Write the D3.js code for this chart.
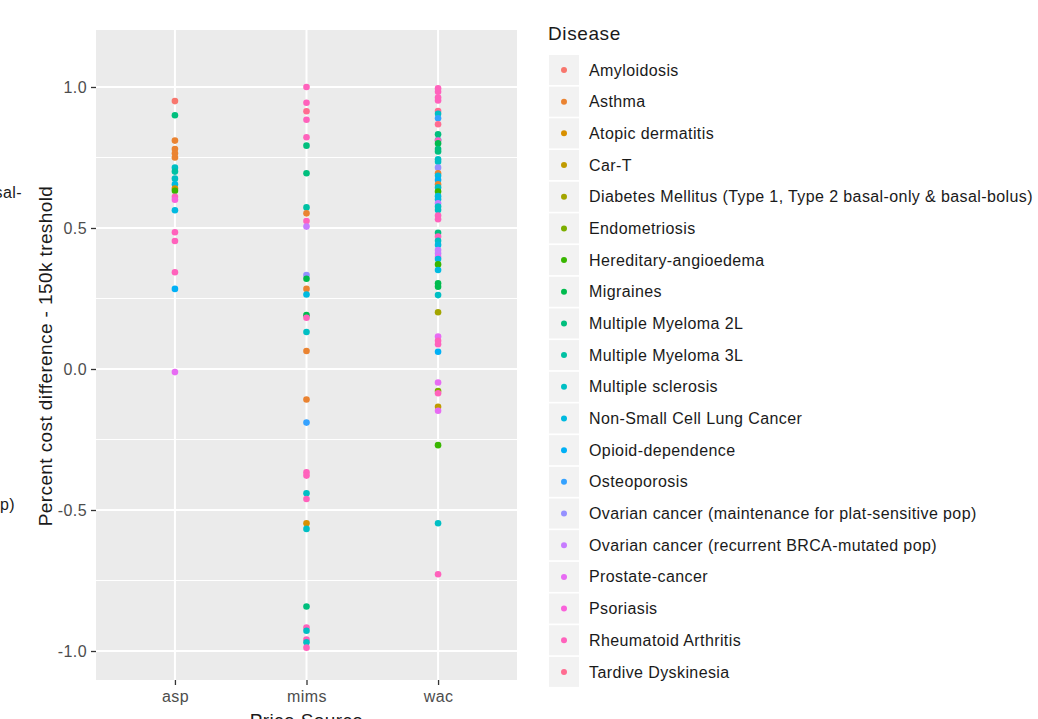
<!DOCTYPE html>
<html>
<head>
<meta charset="utf-8">
<script src="https://cdn.jsdelivr.net/npm/d3@7/dist/d3.min.js"></script>
<style>
  html, body { margin: 0; padding: 0; background: #ffffff; }
  svg { display: block; font-family: "Liberation Sans", Arial, sans-serif; }
</style>
</head>
<body>
<svg id="chart" width="1038" height="719"></svg>
<script>
// Price sources on the x axis
const sources = ["asp", "mims", "wac"];

// Disease levels, in legend order
const diseases = [
  "Amyloidosis",
  "Asthma",
  "Atopic dermatitis",
  "Car-T",
  "Diabetes Mellitus (Type 1, Type 2 basal-only & basal-bolus)",
  "Endometriosis",
  "Hereditary-angioedema",
  "Migraines",
  "Multiple Myeloma 2L",
  "Multiple Myeloma 3L",
  "Multiple sclerosis",
  "Non-Small Cell Lung Cancer",
  "Opioid-dependence",
  "Osteoporosis",
  "Ovarian cancer (maintenance for plat-sensitive pop)",
  "Ovarian cancer (recurrent BRCA-mutated pop)",
  "Prostate-cancer",
  "Psoriasis",
  "Rheumatoid Arthritis",
  "Tardive Dyskinesia"
];

// Default discrete hue palette, 20 levels
const diseaseColors = [
  "#F8766D", "#EA8331", "#D89000", "#C09B00", "#A3A500",
  "#7CAE00", "#39B600", "#00BB4E", "#00BF7D", "#00C1A3",
  "#00BFC4", "#00BAE0", "#00B0F6", "#35A2FF", "#9590FF",
  "#C77CFF", "#E76BF3", "#FA62DB", "#FF62BC", "#FF6C91"
];

// Percent cost difference at the 150k threshold, [disease, value]
const aspPoints = [
  ["Amyloidosis", 0.95], ["Multiple Myeloma 2L", 0.90],
  ["Asthma", 0.81], ["Asthma", 0.78], ["Asthma", 0.765], ["Asthma", 0.75],
  ["Multiple sclerosis", 0.714], ["Multiple Myeloma 3L", 0.70],
  ["Multiple sclerosis", 0.675], ["Non-Small Cell Lung Cancer", 0.655],
  ["Atopic dermatitis", 0.64], ["Hereditary-angioedema", 0.632],
  ["Rheumatoid Arthritis", 0.611], ["Psoriasis", 0.60],
  ["Non-Small Cell Lung Cancer", 0.563], ["Rheumatoid Arthritis", 0.485],
  ["Rheumatoid Arthritis", 0.454], ["Rheumatoid Arthritis", 0.343],
  ["Opioid-dependence", 0.284], ["Prostate-cancer", -0.011]
];

const mimsPoints = [
  ["Rheumatoid Arthritis", 1.0], ["Rheumatoid Arthritis", 0.944],
  ["Tardive Dyskinesia", 0.914], ["Rheumatoid Arthritis", 0.884],
  ["Rheumatoid Arthritis", 0.822], ["Multiple Myeloma 2L", 0.792],
  ["Multiple Myeloma 2L", 0.694], ["Multiple Myeloma 3L", 0.573],
  ["Asthma", 0.552], ["Rheumatoid Arthritis", 0.525],
  ["Ovarian cancer (recurrent BRCA-mutated pop)", 0.505],
  ["Ovarian cancer (maintenance for plat-sensitive pop)", 0.333],
  ["Migraines", 0.320], ["Asthma", 0.284],
  ["Non-Small Cell Lung Cancer", 0.264], ["Migraines", 0.191],
  ["Rheumatoid Arthritis", 0.182], ["Multiple sclerosis", 0.131],
  ["Asthma", 0.064], ["Asthma", -0.108], ["Osteoporosis", -0.19],
  ["Rheumatoid Arthritis", -0.366], ["Rheumatoid Arthritis", -0.378],
  ["Multiple sclerosis", -0.441], ["Rheumatoid Arthritis", -0.461],
  ["Atopic dermatitis", -0.547], ["Multiple sclerosis", -0.567],
  ["Multiple Myeloma 2L", -0.842], ["Rheumatoid Arthritis", -0.917],
  ["Multiple sclerosis", -0.928], ["Rheumatoid Arthritis", -0.959],
  ["Multiple sclerosis", -0.969], ["Rheumatoid Arthritis", -0.988]
];

const wacPoints = [
  ["Rheumatoid Arthritis", 0.995], ["Rheumatoid Arthritis", 0.983],
  ["Rheumatoid Arthritis", 0.963], ["Rheumatoid Arthritis", 0.952],
  ["Tardive Dyskinesia", 0.915], ["Multiple sclerosis", 0.905],
  ["Osteoporosis", 0.889], ["Tardive Dyskinesia", 0.868],
  ["Multiple Myeloma 2L", 0.832], ["Multiple sclerosis", 0.812],
  ["Rheumatoid Arthritis", 0.81], ["Migraines", 0.80],
  ["Multiple Myeloma 2L", 0.78], ["Multiple Myeloma 2L", 0.771],
  ["Multiple sclerosis", 0.744], ["Multiple sclerosis", 0.735],
  ["Ovarian cancer (maintenance for plat-sensitive pop)", 0.714],
  ["Asthma", 0.694], ["Non-Small Cell Lung Cancer", 0.685],
  ["Opioid-dependence", 0.67], ["Asthma", 0.655],
  ["Multiple sclerosis", 0.644], ["Hereditary-angioedema", 0.629],
  ["Non-Small Cell Lung Cancer", 0.613], ["Non-Small Cell Lung Cancer", 0.602],
  ["Ovarian cancer (recurrent BRCA-mutated pop)", 0.588],
  ["Multiple sclerosis", 0.576], ["Multiple sclerosis", 0.564],
  ["Rheumatoid Arthritis", 0.544], ["Rheumatoid Arthritis", 0.531],
  ["Multiple Myeloma 2L", 0.483], ["Rheumatoid Arthritis", 0.47],
  ["Multiple sclerosis", 0.455], ["Non-Small Cell Lung Cancer", 0.44],
  ["Ovarian cancer (recurrent BRCA-mutated pop)", 0.422],
  ["Ovarian cancer (recurrent BRCA-mutated pop)", 0.41],
  ["Prostate-cancer", 0.398], ["Non-Small Cell Lung Cancer", 0.39],
  ["Hereditary-angioedema", 0.371], ["Non-Small Cell Lung Cancer", 0.351],
  ["Migraines", 0.304], ["Migraines", 0.292],
  ["Multiple sclerosis", 0.262], ["Diabetes Mellitus (Type 1, Type 2 basal-only & basal-bolus)", 0.201],
  ["Prostate-cancer", 0.115], ["Rheumatoid Arthritis", 0.10],
  ["Rheumatoid Arthritis", 0.088], ["Opioid-dependence", 0.061],
  ["Prostate-cancer", -0.048], ["Endometriosis", -0.078],
  ["Rheumatoid Arthritis", -0.086], ["Car-T", -0.134],
  ["Prostate-cancer", -0.148], ["Hereditary-angioedema", -0.27],
  ["Multiple sclerosis", -0.547], ["Rheumatoid Arthritis", -0.728]
];

const yTicks = [-1.0, -0.5, 0.0, 0.5, 1.0];
const yMinorTicks = [-0.75, -0.25, 0.25, 0.75];

const rows = [
  ...aspPoints.map(([d, v]) => ({ source: "asp", disease: d, value: v })),
  ...mimsPoints.map(([d, v]) => ({ source: "mims", disease: d, value: v })),
  ...wacPoints.map(([d, v]) => ({ source: "wac", disease: d, value: v }))
];

const svg = d3.select("#chart");
const panel = { left: 96, right: 517, top: 30, bottom: 680 };

const x = d3.scalePoint().domain(sources)
  .range([panel.left, panel.right]).padding(0.6);
const y = d3.scaleLinear().domain([-1.1028, 1.2021])
  .range([panel.bottom, panel.top]);
const color = d3.scaleOrdinal().domain(diseases).range(diseaseColors);

// Panel background
svg.append("rect")
  .attr("x", panel.left).attr("y", panel.top)
  .attr("width", panel.right - panel.left)
  .attr("height", panel.bottom - panel.top)
  .attr("fill", "#EBEBEB");

// Grid
const grid = svg.append("g");
grid.selectAll("line.minor").data(yMinorTicks).join("line")
  .attr("x1", panel.left).attr("x2", panel.right)
  .attr("y1", d => y(d)).attr("y2", d => y(d))
  .attr("stroke", "#ffffff").attr("stroke-width", 1);
grid.selectAll("line.majorY").data(yTicks).join("line")
  .attr("x1", panel.left).attr("x2", panel.right)
  .attr("y1", d => y(d)).attr("y2", d => y(d))
  .attr("stroke", "#ffffff").attr("stroke-width", 2);
grid.selectAll("line.majorX").data(sources).join("line")
  .attr("x1", d => x(d)).attr("x2", d => x(d))
  .attr("y1", panel.top).attr("y2", panel.bottom)
  .attr("stroke", "#ffffff").attr("stroke-width", 2);

// Points
svg.append("g").selectAll("circle").data(rows).join("circle")
  .attr("cx", d => x(d.source))
  .attr("cy", d => y(d.value))
  .attr("r", 3.3)
  .attr("fill", d => color(d.disease));

// Axes
const yAxis = svg.append("g")
  .attr("transform", `translate(${panel.left},0)`)
  .call(d3.axisLeft(y).tickValues(yTicks).tickFormat(d => d.toFixed(1))
    .tickSize(5).tickPadding(4));
const xAxis = svg.append("g")
  .attr("transform", `translate(0,${panel.bottom})`)
  .call(d3.axisBottom(x).tickSize(5).tickPadding(6));
[yAxis, xAxis].forEach(g => {
  g.select(".domain").remove();
  g.selectAll(".tick line").attr("stroke", "#333333").attr("stroke-width", 1.3);
  g.selectAll(".tick text").attr("fill", "#4D4D4D")
    .style("font-size", "16px").style("letter-spacing", "0.4px")
    .style("font-family", "'Liberation Sans', Arial, sans-serif");
});

// Axis titles
svg.append("text")
  .attr("transform", `translate(52,${(panel.top + panel.bottom) / 2 + 1}) rotate(-90)`)
  .attr("text-anchor", "middle")
  .attr("fill", "#1a1a1a")
  .style("font-size", "19px").style("letter-spacing", "0.4px")
  .text("Percent cost difference - 150k treshold");
svg.append("text")
  .attr("x", (panel.left + panel.right) / 2).attr("y", 727)
  .attr("text-anchor", "middle")
  .attr("fill", "#1a1a1a")
  .style("font-size", "19px").style("letter-spacing", "0.4px")
  .text("Price Source");

// Neighbouring text clipped at the left edge
svg.append("text").attr("x", 22).attr("y", 198).attr("text-anchor", "end")
  .attr("fill", "#1a1a1a").style("font-size", "16px").style("letter-spacing", "0.4px")
  .text("basal-");
svg.append("text").attr("x", 15).attr("y", 510).attr("text-anchor", "end")
  .attr("fill", "#1a1a1a").style("font-size", "16px").style("letter-spacing", "0.4px")
  .text("pop)");

// Legend
const legend = svg.append("g");
legend.append("text")
  .attr("x", 548).attr("y", 40)
  .attr("fill", "#1a1a1a")
  .style("font-size", "19px").style("letter-spacing", "0.6px")
  .text("Disease");
const rowH = 31.68, firstRow = 70;
const item = legend.selectAll("g.item").data(diseases).join("g")
  .attr("transform", (d, i) => `translate(0,${firstRow + i * rowH})`);
item.append("rect")
  .attr("x", 549).attr("y", -15).attr("width", 30).attr("height", 30)
  .attr("fill", "#F2F2F2");
item.append("circle")
  .attr("cx", 564).attr("cy", 0).attr("r", 3)
  .attr("fill", d => color(d));
item.append("text")
  .attr("x", 589).attr("y", 0).attr("dy", "0.35em")
  .attr("fill", "#1a1a1a")
  .style("font-size", "16px").style("letter-spacing", "0.4px")
  .text(d => d);
</script>
</body>
</html>
